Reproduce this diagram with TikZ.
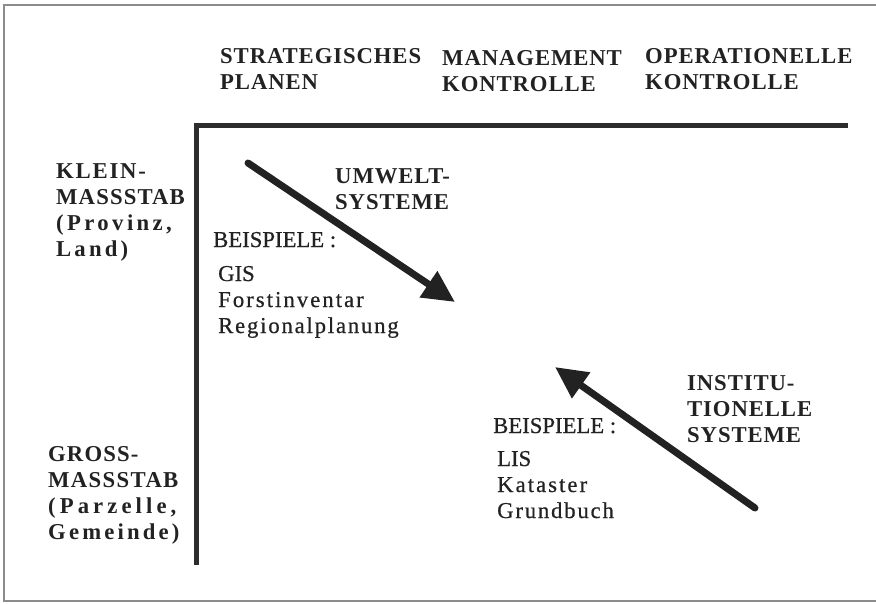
\documentclass[tikz,border=0pt]{standalone}
\usepackage{fontspec}
\setmainfont{Liberation Serif}
\usepackage{tikz}
\usetikzlibrary{arrows.meta,positioning}
\usepackage{xcolor}
\definecolor{ink}{RGB}{34,34,34}
\definecolor{axisgray}{RGB}{45,45,45}
\definecolor{framegray}{RGB}{140,140,140}
\newcommand{\bigfont}{\fontsize{22.7}{26}\selectfont}
\newcommand{\spaced}[2]{{\addfontfeature{LetterSpace=#1}#2}}
\tikzstyle{heading} = [anchor=base west, inner sep=0pt, align=left, text=ink, font=\bigfont\bfseries\addfontfeature{LetterSpace=4}]
\tikzstyle{rowlabel} = [anchor=base west, inner sep=0pt, align=left, text=ink, font=\bigfont\bfseries]
\tikzstyle{example} = [anchor=base west, inner sep=0pt, align=left, text=ink, font=\bigfont\addfontfeature{FakeBold=0.6}]
\tikzstyle{axis} = [line width=5pt, color=axisgray]
\tikzstyle{trend} = [line width=7pt, color=ink, line cap=round, -{Triangle[length=32pt,width=30pt]}]
\tikzstyle{frame} = [line width=1.2pt, color=framegray]
\begin{document}
\begin{tikzpicture}[x=1pt, y=-1pt]
\useasboundingbox (0,0) rectangle (876,603);
% Frame (cut off on the right)
\draw[frame] (876,5) -| (4,601) -- (876,601);

% Column headings (placed at the last baseline)
\node (strat) [heading] at (220,89) {STRATEGISCHES\\PLANEN};
\node (mgmt) [heading] at (442,91) {MANAGEMENT\\KONTROLLE};
\node (oper) [heading] at (645,89) {OPERATIONELLE\\KONTROLLE};

% Axes
\coordinate (corner) at (196,125);
\coordinate (xend) at (848,125);
\coordinate (yend) at (196,565);
\draw[axis] (xend) -- (corner) -- (yend);

% Row labels
\node (klein) [rowlabel] at (56,256) {\spaced{8}{KLEIN-}\\\spaced{5}{MASSSTAB}\\\spaced{15}{(Provinz,}\\\spaced{14}{Land)}};
\node (gross) [rowlabel] at (48,539) {\spaced{5}{GROSS-}\\\spaced{6}{MASSSTAB}\\\spaced{18}{(Parzelle,}\\\spaced{14}{Gemeinde)}};

% Systems
\node (umwelt) [heading] at (335,209) {UMWELT-\\SYSTEME};
\node (inst) [heading] at (687,442) {INSTITU-\\TIONELLE\\SYSTEME};

% Examples
\node (bsp1) [example] at (213,247) {BEISPIELE :};
\node (list1) [example] at (218,333) {GIS\\\spaced{9}{Forstinventar}\\\spaced{8}{Regionalplanung}};
\node (bsp2) [example] at (493,433) {BEISPIELE :};
\node (list2) [example] at (497,518) {LIS\\\spaced{9}{Kataster}\\\spaced{8}{Grundbuch}};

% Trends
\coordinate (umw-from) at (248,163);
\coordinate (umw-to) at (455,302);
\coordinate (inst-from) at (755,508);
\coordinate (inst-to) at (555,367);
\draw[trend] (umw-from) -- (umw-to);
\draw[trend] (inst-from) -- (inst-to);
\end{tikzpicture}
\end{document}
